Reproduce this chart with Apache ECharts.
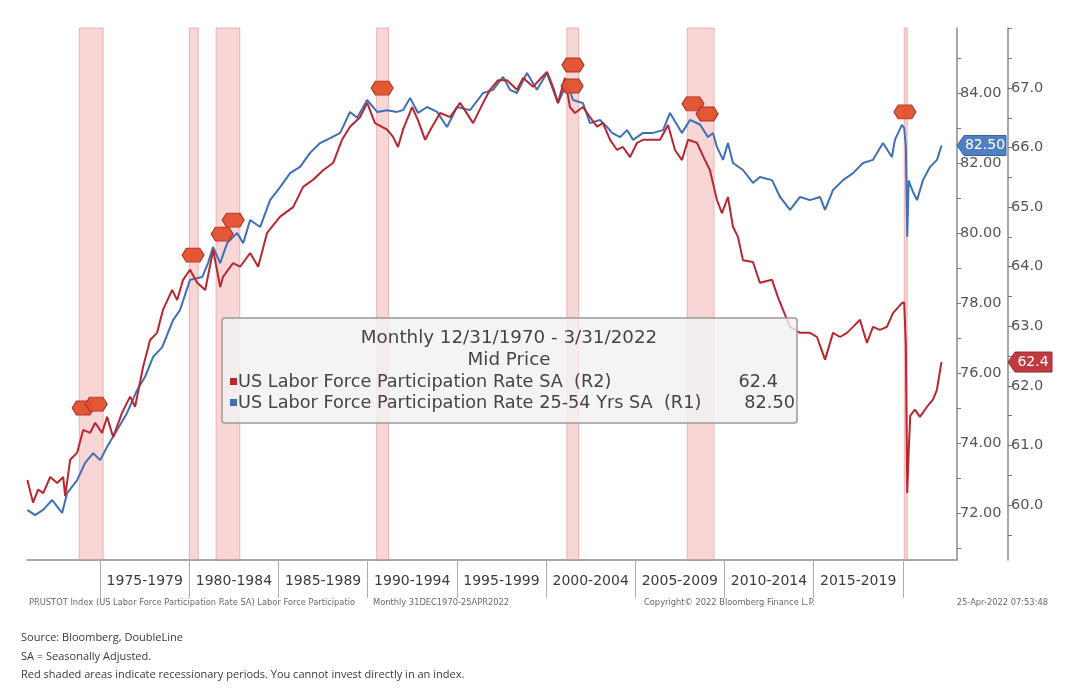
<!DOCTYPE html>
<html>
<head>
<meta charset="utf-8">
<script src="https://cdn.jsdelivr.net/npm/echarts@6/dist/echarts.min.js"></script>
<style>
  html, body { margin: 0; padding: 0; background: #fff; }
  #chart { width: 1080px; height: 690px; }
</style>
</head>
<body>
<div id="chart"></div>
<script>
// ---- Data ----
const periodLabels = ["1975-1979","1980-1984","1985-1989","1990-1994","1995-1999","2000-2004","2005-2009","2010-2014","2015-2019"];
const periodLabelPos = [1977.5,1982.5,1987.5,1992.5,1997.5,2002.5,2007.5,2012.5,2017.5];
const periodTicks = [1975,1980,1985,1990,1995,2000,2005,2010,2015,2020];

const recessionStart = [1973.83, 1980.0, 1981.5, 1990.5, 2001.17, 2007.92, 2020.08];
const recessionEnd   = [1975.17, 1980.5, 1982.83, 1991.17, 2001.83, 2009.42, 2020.25];

// US Labor Force Participation Rate SA (R2)
const redYears = [1970.92,1971.24,1971.52,1971.81,1972.20,1972.59,1972.93,1973.04,1973.32,1973.71,
  1974.05,1974.44,1974.72,1975.11,1975.39,1975.73,1976.23,1976.68,1976.96,1977.41,
  1977.80,1978.19,1978.53,1979.04,1979.32,1979.65,1980.04,1980.44,1980.89,1981.34,
  1981.73,1981.89,1982.45,1982.85,1983.41,1983.86,1984.36,1985.09,1985.82,1986.38,
  1986.94,1987.50,1988.06,1988.56,1989.01,1989.57,1989.97,1990.41,1991.09,1991.42,
  1991.70,1991.98,1992.49,1992.82,1993.22,1993.61,1994.06,1994.62,1995.18,1995.91,
  1996.47,1996.86,1997.31,1997.81,1998.37,1998.71,1999.27,2000.05,2000.39,2000.67,
  2001.06,2001.34,2001.62,2002.07,2002.46,2002.86,2003.19,2003.59,2003.98,2004.31,
  2004.71,2005.10,2005.44,2006.00,2006.39,2006.84,2007.23,2007.62,2007.96,2008.46,
  2008.91,2009.19,2009.58,2009.86,2010.20,2010.48,2010.76,2011.04,2011.60,2011.99,
  2012.67,2013.00,2013.28,2013.68,2014.24,2014.80,2015.19,2015.64,2016.09,2016.48,
  2016.87,2017.21,2017.60,2017.99,2018.33,2018.72,2019.11,2019.45,2019.95,2020.08,
  2020.17,2020.25,2020.33,2020.42,2020.68,2020.96,2021.36,2021.69,2021.91,2022.17];
const redValues = [60.42,60.04,60.26,60.20,60.47,60.37,60.47,60.15,60.76,60.88,
  61.26,61.21,61.38,61.21,61.48,61.14,61.55,61.82,61.65,62.32,
  62.77,62.89,63.28,63.61,63.44,63.78,63.95,63.73,63.61,64.28,
  63.66,63.83,64.06,64.00,64.23,64.00,64.57,64.84,65.00,65.34,
  65.46,65.62,65.74,66.13,66.35,66.51,66.75,66.41,66.30,66.18,
  66.01,66.30,66.68,66.46,66.13,66.35,66.58,66.51,66.75,66.41,
  66.75,66.97,67.13,67.13,66.97,67.17,67.02,67.27,67.02,66.75,
  67.17,66.68,66.58,66.68,66.51,66.35,66.41,66.13,65.96,66.01,
  65.84,66.08,66.13,66.13,66.13,66.38,65.96,65.79,66.13,66.08,
  65.79,65.62,65.12,64.90,65.17,64.67,64.50,64.11,64.08,63.73,
  63.78,63.49,63.28,62.99,62.89,62.89,62.82,62.44,62.89,62.82,
  62.89,62.99,63.11,62.72,62.99,62.94,62.99,63.22,63.39,63.40,
  62.70,60.20,60.90,61.50,61.60,61.48,61.65,61.77,61.93,62.40];

// US Labor Force Participation Rate 25-54 Yrs SA (R1)
const blueYears = [1970.92,1971.35,1971.80,1972.31,1972.87,1973.15,1973.71,1974.16,1974.61,1975.00,
  1975.39,1975.95,1976.51,1977.07,1977.52,1977.97,1978.48,1979.09,1979.48,1980.04,
  1980.72,1981.05,1981.33,1981.73,1982.12,1982.68,1983.02,1983.41,1983.97,1984.53,
  1985.09,1985.65,1986.21,1986.77,1987.33,1987.90,1988.46,1989.01,1989.41,1989.97,
  1990.53,1991.09,1991.65,1991.98,1992.38,1992.82,1993.33,1993.89,1994.45,1995.01,
  1995.74,1996.47,1997.03,1997.59,1997.98,1998.37,1998.93,1999.49,2000.05,2000.67,
  2001.17,2001.51,2002.07,2002.46,2003.02,2003.42,2003.70,2004.15,2004.54,2004.88,
  2005.44,2006.00,2006.56,2006.95,2007.62,2008.07,2008.63,2009.08,2009.36,2009.58,
  2009.92,2010.20,2010.48,2011.04,2011.60,2011.99,2012.67,2013.12,2013.68,2014.24,
  2014.80,2015.36,2015.64,2016.09,2016.65,2017.21,2017.77,2018.33,2018.89,2019.39,
  2019.56,2019.95,2020.08,2020.17,2020.25,2020.33,2020.55,2020.80,2021.13,2021.53,
  2021.92,2022.17];
const blueValues = [72.09,71.94,72.09,72.37,72.00,72.57,72.94,73.43,73.71,73.51,
  73.89,74.37,74.86,75.51,75.89,76.46,76.74,77.51,77.80,78.66,
  78.74,79.14,79.60,79.14,79.71,80.00,79.71,80.37,80.17,80.94,
  81.31,81.71,81.89,82.29,82.57,82.71,82.86,83.46,83.29,83.80,
  83.46,83.51,83.46,83.51,83.86,83.43,83.60,83.46,83.03,83.60,
  83.51,84.00,84.09,84.46,84.09,84.00,84.57,84.09,84.57,83.71,
  84.29,83.80,83.71,83.14,83.23,83.03,82.86,82.74,82.94,82.66,
  82.86,82.86,82.94,83.43,82.86,83.23,83.10,82.74,82.86,82.46,
  82.09,82.57,82.00,81.80,81.43,81.60,81.51,81.03,80.66,81.03,
  80.94,81.03,80.66,81.23,81.51,81.71,82.00,82.09,82.57,82.17,
  82.66,83.09,83.00,82.50,79.89,81.50,81.20,80.94,81.51,81.89,
  82.09,82.50];

// Event markers (on R1 scale)
const eventYears  = [1974.05, 1974.78, 1980.21, 1981.84, 1982.46, 1990.81, 2001.51, 2001.46, 2008.24, 2009.03, 2020.12];
const eventValues = [75.00, 75.11, 79.37, 79.97, 80.37, 84.14, 84.80, 84.20, 83.69, 83.40, 83.46];

const r1Labels = [72, 74, 76, 78, 80, 82, 84];
const r1Ticks  = [71, 72, 73, 74, 75, 76, 77, 78, 79, 80, 81, 82, 83, 84, 85];
const r2Labels = [60, 61, 62, 63, 64, 65, 66, 67];
const r2Ticks  = [59.5, 60, 60.5, 61, 61.5, 62, 62.5, 63, 63.5, 64, 64.5, 65, 65.5, 66, 66.5, 67, 67.5, 68];

const lastRed = 62.4, lastBlue = 82.50;

// ---- Chart ----
const FONT = 'DejaVu Sans';
const chart = echarts.init(document.getElementById('chart'));

const redData = redYears.map((y, i) => [y, redValues[i]]);
const blueData = blueYears.map((y, i) => [y, blueValues[i]]);
const eventData = eventYears.map((y, i) => [y, eventValues[i]]);
const recessionAreas = recessionStart.map((s, i) => [{ xAxis: s }, { xAxis: recessionEnd[i] }]);

const option = {
  animation: false,
  backgroundColor: '#ffffff',
  grid: { left: 27, right: 123, top: 28, bottom: 130, containLabel: false },
  xAxis: {
    type: 'value', min: 1970.9, max: 2023.04,
    axisLine: { show: true, lineStyle: { color: '#8a8a8a', width: 1.5 } },
    axisTick: { show: true, customValues: periodTicks, length: 38, lineStyle: { color: '#b0b0b0', width: 1 } },
    axisLabel: {
      show: true, customValues: periodLabelPos, margin: 14,
      fontFamily: FONT, fontSize: 14, color: '#3c3c3c',
      formatter: function (v) { return periodLabels[Math.round((v - 1977.5) / 5)] || ''; }
    },
    splitLine: { show: false }
  },
  yAxis: [
    {
      type: 'value', position: 'right', offset: 0, min: 70.657, max: 85.857,
      axisLine: { show: true, onZero: false, lineStyle: { color: '#8a8a8a', width: 1.5 } },
      axisTick: { show: true, customValues: r1Ticks, length: 4, lineStyle: { color: '#777' } },
      axisLabel: { show: true, customValues: r1Labels, margin: 3, fontFamily: FONT, fontSize: 14.5, color: '#555',
        formatter: v => v.toFixed(2) },
      splitLine: { show: false }
    },
    {
      type: 'value', position: 'right', offset: 51, min: 59.077, max: 68.007,
      axisLine: { show: true, onZero: false, lineStyle: { color: '#8a8a8a', width: 1.5 } },
      axisTick: { show: true, customValues: r2Ticks, length: 4, lineStyle: { color: '#777' } },
      axisLabel: { show: true, customValues: r2Labels, margin: 3, fontFamily: FONT, fontSize: 14.5, color: '#555',
        formatter: v => v.toFixed(1) },
      splitLine: { show: false }
    }
  ],
  series: [
    {
      name: 'recessions', type: 'line', yAxisIndex: 0, z: 1,
      data: [[1970.9, 72]], symbol: 'none', lineStyle: { opacity: 0 }, silent: true,
      markArea: {
        silent: true,
        itemStyle: { color: 'rgba(242,165,165,0.45)', borderColor: 'rgba(232,135,135,0.55)', borderWidth: 1 },
        data: recessionAreas
      }
    },
    {
      name: 'US Labor Force Participation Rate 25-54 Yrs SA (R1)', type: 'line', yAxisIndex: 0, z: 3,
      data: blueData, symbol: 'none', lineStyle: { color: '#3f6fb5', width: 2 }
    },
    {
      name: 'US Labor Force Participation Rate SA (R2)', type: 'line', yAxisIndex: 1, z: 4,
      data: redData, symbol: 'none', lineStyle: { color: '#b8272f', width: 2 }
    },
    {
      name: 'events', type: 'scatter', yAxisIndex: 0, z: 5,
      data: eventData,
      symbol: 'path://M0,5 L4,0 L16,0 L20,5 L16,10 L4,10 Z',
      symbolSize: [22, 14],
      itemStyle: { color: '#e2502e', borderColor: '#a8311f', borderWidth: 1, opacity: 0.95 }
    }
  ]
};
chart.setOption(option);

const yb = chart.convertToPixel({ yAxisIndex: 0 }, lastBlue);
const yr = chart.convertToPixel({ yAxisIndex: 1 }, lastRed);

const footColor = '#6a6a6a';
const footFont = '8.3px "DejaVu Sans"';
const noteFont = '11px "Open Sans"';
const boxFont = '17.7px "DejaVu Sans"';
chart.setOption({
  graphic: [
    // legend box
    { type: 'rect', z: 100, shape: { x: 222, y: 318, width: 575, height: 105, r: 3 },
      style: { fill: 'rgba(242,242,242,0.82)', stroke: '#9a9a9a', lineWidth: 1.5 } },
    { type: 'text', z: 101, style: { text: 'Monthly 12/31/1970 - 3/31/2022', x: 509, y: 338, textAlign: 'center', textVerticalAlign: 'middle', font: '18.3px "DejaVu Sans"', fill: '#444' } },
    { type: 'text', z: 101, style: { text: 'Mid Price', x: 509, y: 360, textAlign: 'center', textVerticalAlign: 'middle', font: '18.3px "DejaVu Sans"', fill: '#444' } },
    { type: 'rect', z: 101, shape: { x: 230, y: 378, width: 7, height: 7 }, style: { fill: '#b8272f' } },
    { type: 'text', z: 101, style: { text: 'US Labor Force Participation Rate SA  (R2)', x: 238, y: 382, textVerticalAlign: 'middle', font: boxFont, fill: '#444' } },
    { type: 'text', z: 101, style: { text: '62.4', x: 778, y: 382, textAlign: 'right', textVerticalAlign: 'middle', font: boxFont, fill: '#444' } },
    { type: 'rect', z: 101, shape: { x: 230, y: 399, width: 7, height: 7 }, style: { fill: '#3f6fb5' } },
    { type: 'text', z: 101, style: { text: 'US Labor Force Participation Rate 25-54 Yrs SA  (R1)', x: 238, y: 403, textVerticalAlign: 'middle', font: boxFont, fill: '#444' } },
    { type: 'text', z: 101, style: { text: '82.50', x: 795, y: 403, textAlign: 'right', textVerticalAlign: 'middle', font: boxFont, fill: '#444' } },
    // last value tags
    { type: 'polygon', z: 102, shape: { points: [[957, yb], [964, yb - 10], [1006, yb - 10], [1006, yb + 10], [964, yb + 10]] },
      style: { fill: '#4f7fc1', stroke: '#3b64a0', lineWidth: 1 } },
    { type: 'text', z: 103, style: { text: lastBlue.toFixed(2), x: 985, y: yb, textAlign: 'center', textVerticalAlign: 'middle', font: '14px "DejaVu Sans"', fill: '#ffffff' } },
    { type: 'polygon', z: 102, shape: { points: [[1008, yr], [1015, yr - 10], [1052, yr - 10], [1052, yr + 10], [1015, yr + 10]] },
      style: { fill: '#c23a40', stroke: '#9a2a2f', lineWidth: 1 } },
    { type: 'text', z: 103, style: { text: lastRed.toFixed(1), x: 1033, y: yr, textAlign: 'center', textVerticalAlign: 'middle', font: '14px "DejaVu Sans"', fill: '#ffffff' } },
    // Bloomberg footer
    { type: 'text', z: 101, style: { text: 'PRUSTOT Index (US Labor Force Participation Rate SA) Labor Force Participatio', x: 29, y: 603, textVerticalAlign: 'middle', font: footFont, fill: footColor } },
    { type: 'text', z: 101, style: { text: 'Monthly 31DEC1970-25APR2022', x: 373, y: 603, textVerticalAlign: 'middle', font: footFont, fill: footColor } },
    { type: 'text', z: 101, style: { text: 'Copyright\u00A9 2022 Bloomberg Finance L.P.', x: 644, y: 603, textVerticalAlign: 'middle', font: footFont, fill: footColor } },
    { type: 'text', z: 101, style: { text: '25-Apr-2022 07:53:48', x: 1048, y: 603, textAlign: 'right', textVerticalAlign: 'middle', font: footFont, fill: footColor } },
    // notes
    { type: 'text', z: 101, style: { text: 'Source: Bloomberg, DoubleLine', x: 21, y: 638, textVerticalAlign: 'middle', font: noteFont, fill: '#3a3a3a' } },
    { type: 'text', z: 101, style: { text: 'SA = Seasonally Adjusted.', x: 21, y: 657, textVerticalAlign: 'middle', font: noteFont, fill: '#3a3a3a' } },
    { type: 'text', z: 101, style: { text: 'Red shaded areas indicate recessionary periods. You cannot invest directly in an index.', x: 21, y: 675, textVerticalAlign: 'middle', font: noteFont, fill: '#3a3a3a' } }
  ]
});
</script>
</body>
</html>
